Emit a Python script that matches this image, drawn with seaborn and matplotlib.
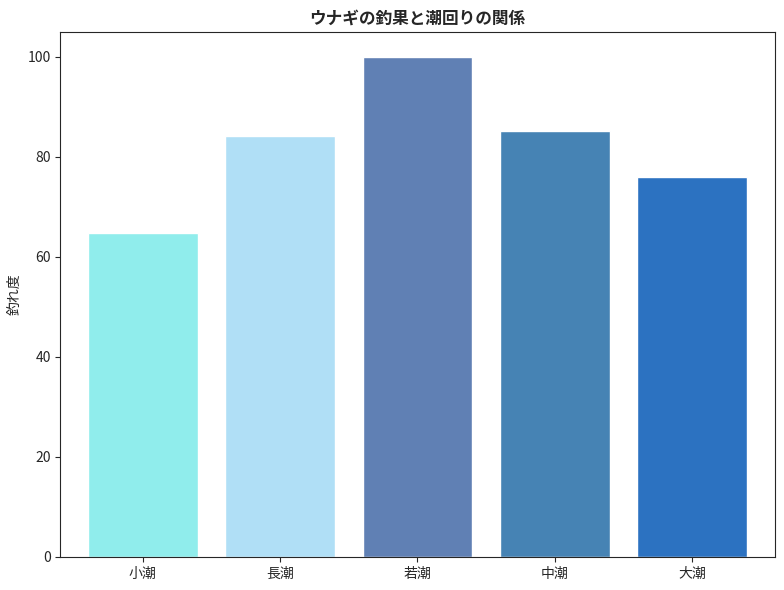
import matplotlib
matplotlib.use("Agg")
import matplotlib.pyplot as plt
import seaborn as sns

sns.set_style("ticks")
plt.rcParams['font.family'] = ['Noto Sans CJK JP', 'DejaVu Sans']

# data
tides = ["小潮", "長潮", "若潮", "中潮", "大潮"]
catch_rate = [64.8, 84.1, 100.0, 85.2, 76.0]
bar_colors = ["#90EDEC", "#B0DFF6", "#6080B4", "#4683B4", "#2C72C1"]

fig, ax = plt.subplots(figsize=(7.84, 5.9), dpi=100)
sns.barplot(x=tides, y=catch_rate, hue=tides, palette=bar_colors,
            legend=False, saturation=1, width=0.8, ax=ax)

ax.set_title("ウナギの釣果と潮回りの関係", fontsize=12, fontweight="bold")
ax.set_ylabel("釣れ度")
ax.set_xlabel("")
ax.set_ylim(0, 105)
ax.set_xlim(-0.6, 4.6)
fig.subplots_adjust(left=0.077, right=0.988, top=0.946, bottom=0.056)
fig.savefig("out.png")
